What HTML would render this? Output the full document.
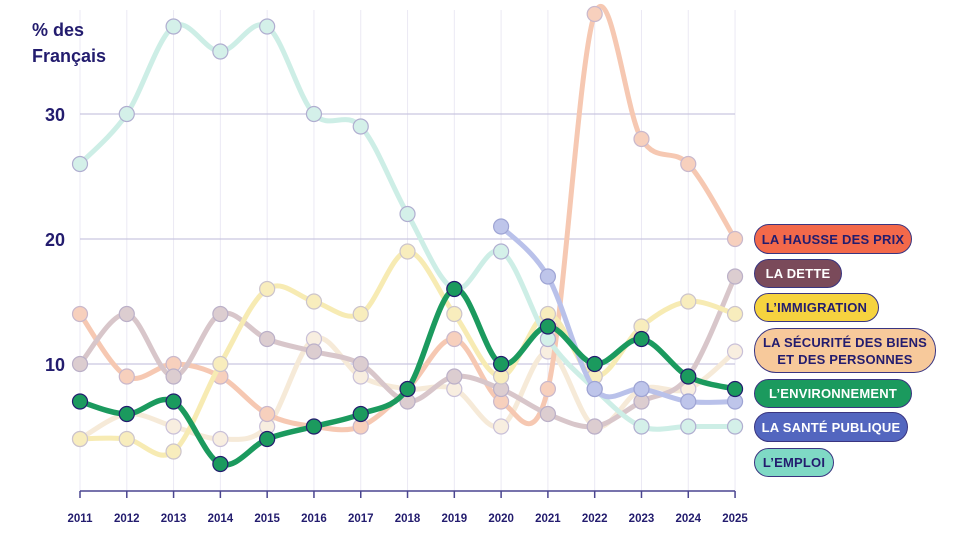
<!DOCTYPE html>
<html><head><meta charset="utf-8"><style>
body{margin:0;background:#fff;width:956px;height:538px;overflow:hidden;font-family:"Liberation Sans",sans-serif}
.p{position:absolute;left:754px;border:1.5px solid #3a3580;border-radius:16px;box-sizing:border-box;font-weight:bold;font-size:13px;color:#231c6e;display:flex;align-items:center;justify-content:center;text-align:center;line-height:17px;letter-spacing:0.2px}
</style></head><body>
<svg id="s" width="956" height="538" style="position:absolute;left:0;top:0"></svg>
<div style="position:absolute;left:32px;top:17px;font-weight:bold;font-size:18px;line-height:26px;color:#231c6e">% des<br>Français</div>
<div class="p" style="top:224px;width:158px;height:30px;background:#f3694a">LA HAUSSE DES PRIX</div>
<div class="p" style="top:259px;width:88px;height:29px;background:#7a4a5a;color:#fff">LA DETTE</div>
<div class="p" style="top:293px;width:125px;height:29px;background:#f6d33f">L’IMMIGRATION</div>
<div class="p" style="top:328px;width:182px;height:45px;background:#f7c99b;border-radius:22px">LA SÉCURITÉ DES BIENS<br>ET DES PERSONNES</div>
<div class="p" style="top:379px;width:158px;height:29px;background:#1b9a5e;color:#fff">L’ENVIRONNEMENT</div>
<div class="p" style="top:412px;width:154px;height:30px;background:#5366bf;color:#fff">LA SANTÉ PUBLIQUE</div>
<div class="p" style="top:448px;width:80px;height:29px;background:#7fd9c5">L’EMPLOI</div>
<script>
const s=document.getElementById('s');let h='';
const X=i=>80+i*46.79,Y=v=>489-12.5*v;
for(let i=0;i<15;i++){h+=`<line x1="${X(i)}" y1="10" x2="${X(i)}" y2="491" stroke="#ebe9f4" stroke-width="1"/>`;
h+=`<line x1="${X(i)}" y1="491" x2="${X(i)}" y2="498" stroke="#4a4590" stroke-width="1.5"/>`;
h+=`<text x="${X(i)}" y="522" font-size="11.5" font-weight="bold" fill="#231c6e" text-anchor="middle" font-family="Liberation Sans">${2011+i}</text>`;}
[[30,114],[20,239],[10,364]].forEach(([t,y])=>{h+=`<line x1="80" y1="${y}" x2="735" y2="${y}" stroke="#c9c6e0" stroke-width="1.2"/><text x="55" y="${y+7}" font-size="18" font-weight="bold" fill="#231c6e" text-anchor="middle" font-family="Liberation Sans">${t}</text>`});
h+=`<line x1="80" y1="491" x2="735" y2="491" stroke="#4a4590" stroke-width="1.5"/>`;
function path(d){const p=d.map(([i,v])=>[X(i),Y(v)]);let r=`M${p[0][0]},${p[0][1]}`;
for(let k=0;k<p.length-1;k++){const p0=p[k-1]||p[k],p1=p[k],p2=p[k+1],p3=p[k+2]||p2;
r+=` C${p1[0]+(p2[0]-p0[0])/6},${p1[1]+(p2[1]-p0[1])/6} ${p2[0]-(p3[0]-p1[0])/6},${p2[1]-(p3[1]-p1[1])/6} ${p2[0]},${p2[1]}`;}return r;}
function ser(vals,start,line,fill,w,stroke){const d=vals.map((v,k)=>[k+start,v]).filter(a=>a[1]!=null);
h+=`<path d="${path(d)}" fill="none" stroke="${line}" stroke-width="${w}" stroke-linecap="round"/>`;
d.forEach(([i,v])=>h+=`<circle cx="${X(i)}" cy="${Y(v)}" r="7.5" fill="${fill}" stroke="${stroke}" stroke-width="1.2"/>`);}
ser([4,6,5,4,5,12,9,8,8,5,11,5,8,8,11],0,'#f6ead8','#f8eee0',5,'#c9c0d8');
ser([14,9,10,9,6,5,5,8,12,7,8,38,28,26,20],0,'#f6c8b2','#f7d0bd',5,'#c9b8cc');
ser([10,14,9,14,12,11,10,7,9,8,6,5,7,9,17],0,'#d8c6ca','#dccdd0',5,'#bbb0c8');
ser([4,4,3,10,16,15,14,19,14,9,14,9,13,15,14],0,'#f7ebb3','#f8edbd',5,'#ccc4cc');
ser([26,30,37,35,37,30,29,22,16,19,12,8,5,5,5],0,'#cdeee6','#d4f0e9',5,'#b0aed0');
ser([21,17,8,8,7,7],9,'#b9c1ea','#bec5ea',5,'#9ea4d4');
ser([7,6,7,2,4,5,6,8,16,10,13,10,12,9,8],0,'#1b9a5e','#1b9a5e',5.5,'#231c6e');
s.innerHTML=h;
</script>
</body></html>
